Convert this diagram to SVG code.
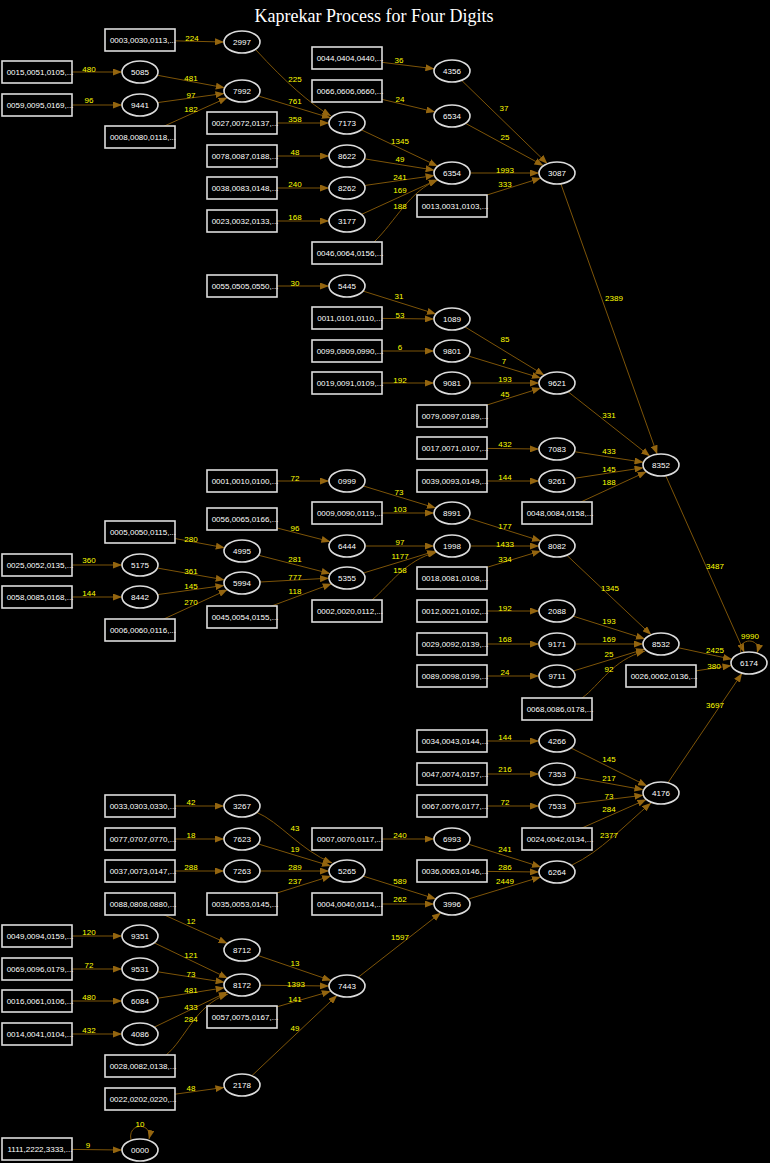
<svg xmlns="http://www.w3.org/2000/svg" width="770" height="1163" viewBox="0 0 770 1163">
<defs>
<marker id="a" markerUnits="userSpaceOnUse" markerWidth="9" markerHeight="7" refX="9" refY="3.5" orient="auto" viewBox="0 0 9 7">
<path d="M0,0 L9,3.5 L0,7 z" fill="#94650f"/>
</marker>
<style>
.e{fill:none;stroke:#7d5408;stroke-width:1;marker-end:url(#a)}
.l{fill:#ffff00;font-family:"Liberation Sans",Arial,sans-serif;font-size:8px;text-anchor:middle}
.b rect{fill:#000;stroke:#dcdcdc;stroke-width:1.6}
.o ellipse{fill:#000;stroke:#dcdcdc;stroke-width:1.6}
.t{fill:#fff;font-family:"Liberation Sans",Arial,sans-serif;font-size:8px;text-anchor:middle}
</style>
</defs>
<rect x="0" y="0" width="770" height="1163" fill="#000"/>
<g id="title"><text x="374" y="22" fill="#fff" font-family="'Liberation Serif','Times New Roman',serif" font-size="18" text-anchor="middle">Kaprekar Process for Four Digits</text></g>
<g id="connectors">
<path class="e" d="M140,40 L224,42"/>
<path class="e" d="M37,72 L122,72"/>
<path class="e" d="M37,105 L122,105"/>
<path class="e" d="M140,72 L224.8,87.8"/>
<path class="e" d="M140,105 L224.4,93.4"/>
<path class="e" d="M140,137 L227.5,97.5"/>
<path class="e" d="M256,50 Q300,98 331,116"/>
<path class="e" d="M242,91 L330.9,118.1"/>
<path class="e" d="M242,123 L329,123"/>
<path class="e" d="M242,156 L329,156"/>
<path class="e" d="M242,188 L329,188"/>
<path class="e" d="M242,221 L329,221"/>
<path class="e" d="M347,123 L437.8,166.2"/>
<path class="e" d="M347,156 L434.6,170.2"/>
<path class="e" d="M347,188 L434.5,175.5"/>
<path class="e" d="M347,221 L437.6,179.6"/>
<path class="e" d="M374,242 C395,222 410,190 438,180"/>
<path class="e" d="M347,58 L434.4,68.8"/>
<path class="e" d="M347,91 L435.2,112"/>
<path class="e" d="M452,71 L547.4,163.7"/>
<path class="e" d="M452,116 L543.5,165.7"/>
<path class="e" d="M452,173 L539,173"/>
<path class="e" d="M452,206 L541,178"/>
<path class="e" d="M557,173 L657.2,454.3"/>
<path class="e" d="M242,286 L329,286"/>
<path class="e" d="M347,286 L436,314"/>
<path class="e" d="M347,318 L434,319"/>
<path class="e" d="M347,351 L434,351"/>
<path class="e" d="M347,383 L434,383"/>
<path class="e" d="M452,319 L544.3,375.2"/>
<path class="e" d="M452,351 L540.9,378.1"/>
<path class="e" d="M452,383 L539,383"/>
<path class="e" d="M452,416 L541,388"/>
<path class="e" d="M557,383 L650,456.3"/>
<path class="e" d="M452,448 L539,449"/>
<path class="e" d="M452,481 L539,481"/>
<path class="e" d="M557,449 L643.5,462.3"/>
<path class="e" d="M557,481 L643.5,467.7"/>
<path class="e" d="M557,513 L646.6,471.6"/>
<path class="e" d="M661,465 L744.3,652.4"/>
<path class="e" d="M242,481 L329,481"/>
<path class="e" d="M347,481 L435.9,508.1"/>
<path class="e" d="M347,513 L434,513"/>
<path class="e" d="M242,519 L330.4,541.7"/>
<path class="e" d="M347,546 L434,546"/>
<path class="e" d="M347,578 L435.9,550.9"/>
<path class="e" d="M372,600 C390,585 405,560 437,552"/>
<path class="e" d="M452,513 L541,541"/>
<path class="e" d="M452,546 L539,546"/>
<path class="e" d="M452,578 L540.9,550.9"/>
<path class="e" d="M557,546 L651.2,634.8"/>
<path class="e" d="M140,532 L224.8,547.8"/>
<path class="e" d="M37,565 L122,565"/>
<path class="e" d="M37,597 L122,597"/>
<path class="e" d="M140,565 L224.7,579.9"/>
<path class="e" d="M140,597 L224.4,585.4"/>
<path class="e" d="M140,630 L227.6,589.6"/>
<path class="e" d="M242,551 L330.4,573.7"/>
<path class="e" d="M242,583 L329,578.2"/>
<path class="e" d="M242,617 L331.7,583.7"/>
<path class="e" d="M452,611 L539,611"/>
<path class="e" d="M452,644 L539,644"/>
<path class="e" d="M452,676 L539,676"/>
<path class="e" d="M557,611 L645,638.9"/>
<path class="e" d="M557,644 L643,644"/>
<path class="e" d="M557,676 L644.9,649"/>
<path class="e" d="M582,698 C600,685 612,660 645,651"/>
<path class="e" d="M661,644 L732,659.3"/>
<path class="e" d="M661,676 L731.5,665.6"/>
<path class="e" d="M661,793 L742.1,673.2"/>
<path class="e" d="M741,653 C737,637 762,637 757,653"/>
<path class="e" d="M452,741 L539,741"/>
<path class="e" d="M452,774 L539,774"/>
<path class="e" d="M452,806 L539,806"/>
<path class="e" d="M557,741 L647.1,786"/>
<path class="e" d="M557,774 L643.4,789.8"/>
<path class="e" d="M557,806 L643.4,795.2"/>
<path class="e" d="M557,839 L646.4,799.5"/>
<path class="e" d="M572,865 C600,852 625,825 651,803"/>
<path class="e" d="M347,839 L434,839"/>
<path class="e" d="M452,839 L541,867"/>
<path class="e" d="M452,871 L539,872"/>
<path class="e" d="M452,904 L540.9,876.9"/>
<path class="e" d="M140,806 L224,806"/>
<path class="e" d="M140,839 L224,839"/>
<path class="e" d="M140,871 L224,871"/>
<path class="e" d="M256,812 C280,822 300,850 332,863"/>
<path class="e" d="M242,839 L330.9,866.1"/>
<path class="e" d="M242,871 L329,871"/>
<path class="e" d="M242,904 L331,876"/>
<path class="e" d="M347,871 L436,899"/>
<path class="e" d="M347,904 L434,904"/>
<path class="e" d="M347,986 L440.9,912.7"/>
<path class="e" d="M140,904 L227.5,943.5"/>
<path class="e" d="M37,936 L122,936"/>
<path class="e" d="M37,969 L122,969"/>
<path class="e" d="M37,1001 L122,1001"/>
<path class="e" d="M37,1034 L122,1034"/>
<path class="e" d="M140,936 L227.8,978.2"/>
<path class="e" d="M140,969 L224.6,982.3"/>
<path class="e" d="M140,1001 L224.6,987.7"/>
<path class="e" d="M140,1034 L227.8,991.8"/>
<path class="e" d="M166,1055 C185,1040 195,1005 228,994"/>
<path class="e" d="M242,950 L331.3,980.6"/>
<path class="e" d="M242,985 L329,986"/>
<path class="e" d="M242,1017 L330.8,991.2"/>
<path class="e" d="M242,1085 L337.2,995.2"/>
<path class="e" d="M140,1099 L224.4,1087.4"/>
<path class="e" d="M37,1149 L122,1150"/>
<path class="e" d="M131,1140 C127,1122 153,1122 149,1139"/>
<g id="edge-labels">
<text class="l" x="192" y="41">224</text>
<text class="l" x="89" y="72">480</text>
<text class="l" x="89" y="103">96</text>
<text class="l" x="191" y="81">481</text>
<text class="l" x="191" y="98">97</text>
<text class="l" x="191" y="112">182</text>
<text class="l" x="295" y="82">225</text>
<text class="l" x="295" y="104">761</text>
<text class="l" x="295" y="122">358</text>
<text class="l" x="295" y="155">48</text>
<text class="l" x="295" y="187">240</text>
<text class="l" x="295" y="220">168</text>
<text class="l" x="399" y="63">36</text>
<text class="l" x="400" y="102">24</text>
<text class="l" x="400" y="144">1345</text>
<text class="l" x="400" y="162">49</text>
<text class="l" x="400" y="180">241</text>
<text class="l" x="400" y="193">169</text>
<text class="l" x="400" y="209">188</text>
<text class="l" x="504" y="111">37</text>
<text class="l" x="505" y="140">25</text>
<text class="l" x="505" y="173">1993</text>
<text class="l" x="505" y="187">333</text>
<text class="l" x="614" y="301">2389</text>
<text class="l" x="295" y="286">30</text>
<text class="l" x="399" y="299">31</text>
<text class="l" x="400" y="318">53</text>
<text class="l" x="400" y="350">6</text>
<text class="l" x="400" y="383">192</text>
<text class="l" x="505" y="342">85</text>
<text class="l" x="504" y="364">7</text>
<text class="l" x="505" y="382">193</text>
<text class="l" x="505" y="397">45</text>
<text class="l" x="609" y="418">331</text>
<text class="l" x="505" y="447">432</text>
<text class="l" x="505" y="480">144</text>
<text class="l" x="609" y="454">433</text>
<text class="l" x="609" y="472">145</text>
<text class="l" x="609" y="485">188</text>
<text class="l" x="715" y="569">3487</text>
<text class="l" x="295" y="481">72</text>
<text class="l" x="399" y="495">73</text>
<text class="l" x="400" y="512">103</text>
<text class="l" x="295" y="531">96</text>
<text class="l" x="400" y="545">97</text>
<text class="l" x="400" y="559">1177</text>
<text class="l" x="400" y="573">158</text>
<text class="l" x="505" y="529">177</text>
<text class="l" x="505" y="547">1433</text>
<text class="l" x="505" y="562">334</text>
<text class="l" x="610" y="591">1345</text>
<text class="l" x="191" y="542">280</text>
<text class="l" x="89" y="563">360</text>
<text class="l" x="89" y="596">144</text>
<text class="l" x="191" y="574">361</text>
<text class="l" x="191" y="589">145</text>
<text class="l" x="191" y="605">270</text>
<text class="l" x="295" y="562">281</text>
<text class="l" x="295" y="580">777</text>
<text class="l" x="295" y="594">118</text>
<text class="l" x="505" y="611">192</text>
<text class="l" x="505" y="642">168</text>
<text class="l" x="505" y="675">24</text>
<text class="l" x="609" y="624">193</text>
<text class="l" x="609" y="642">169</text>
<text class="l" x="609" y="657">25</text>
<text class="l" x="609" y="672">92</text>
<text class="l" x="715" y="653">2425</text>
<text class="l" x="714" y="669">380</text>
<text class="l" x="750" y="639">9990</text>
<text class="l" x="715" y="708">3697</text>
<text class="l" x="505" y="740">144</text>
<text class="l" x="505" y="772">216</text>
<text class="l" x="505" y="805">72</text>
<text class="l" x="609" y="762">145</text>
<text class="l" x="609" y="781">217</text>
<text class="l" x="609" y="799">73</text>
<text class="l" x="609" y="812">284</text>
<text class="l" x="609" y="838">2377</text>
<text class="l" x="400" y="838">240</text>
<text class="l" x="505" y="852">241</text>
<text class="l" x="505" y="870">286</text>
<text class="l" x="505" y="884">2449</text>
<text class="l" x="191" y="805">42</text>
<text class="l" x="191" y="838">18</text>
<text class="l" x="191" y="870">288</text>
<text class="l" x="295" y="831">43</text>
<text class="l" x="295" y="852">19</text>
<text class="l" x="295" y="870">289</text>
<text class="l" x="295" y="884">237</text>
<text class="l" x="400" y="884">589</text>
<text class="l" x="400" y="902">262</text>
<text class="l" x="400" y="940">1597</text>
<text class="l" x="191" y="924">12</text>
<text class="l" x="89" y="935">120</text>
<text class="l" x="89" y="968">72</text>
<text class="l" x="89" y="1000">480</text>
<text class="l" x="89" y="1033">432</text>
<text class="l" x="191" y="958">121</text>
<text class="l" x="191" y="977">73</text>
<text class="l" x="191" y="993">481</text>
<text class="l" x="191" y="1010">433</text>
<text class="l" x="191" y="1022">284</text>
<text class="l" x="295" y="966">13</text>
<text class="l" x="296" y="987">1393</text>
<text class="l" x="295" y="1002">141</text>
<text class="l" x="295" y="1031">49</text>
<text class="l" x="191" y="1091">48</text>
<text class="l" x="140" y="1127">10</text>
<text class="l" x="88" y="1148">9</text>
</g>
</g>
<g id="b0015" class="b"><rect x="2" y="61" width="70" height="22"/><text class="t" x="40" y="75">0015,0051,0105,...</text></g>
<g id="b0059" class="b"><rect x="2" y="94" width="70" height="22"/><text class="t" x="40" y="108">0059,0095,0169,...</text></g>
<g id="b0025" class="b"><rect x="2" y="554" width="70" height="22"/><text class="t" x="40" y="568">0025,0052,0135,...</text></g>
<g id="b0058" class="b"><rect x="2" y="586" width="70" height="22"/><text class="t" x="40" y="600">0058,0085,0168,...</text></g>
<g id="b0049" class="b"><rect x="2" y="925" width="70" height="22"/><text class="t" x="40" y="939">0049,0094,0159,...</text></g>
<g id="b0069" class="b"><rect x="2" y="958" width="70" height="22"/><text class="t" x="40" y="972">0069,0096,0179,...</text></g>
<g id="b0016" class="b"><rect x="2" y="990" width="70" height="22"/><text class="t" x="40" y="1004">0016,0061,0106,...</text></g>
<g id="b0014" class="b"><rect x="2" y="1023" width="70" height="22"/><text class="t" x="40" y="1037">0014,0041,0104,...</text></g>
<g id="b1111" class="b"><rect x="2" y="1138" width="70" height="22"/><text class="t" x="40" y="1152">1111,2222,3333,...</text></g>
<g id="b0003" class="b"><rect x="105" y="29" width="70" height="22"/><text class="t" x="143" y="43">0003,0030,0113,...</text></g>
<g id="b0008" class="b"><rect x="105" y="126" width="70" height="22"/><text class="t" x="143" y="140">0008,0080,0118,...</text></g>
<g id="b0005" class="b"><rect x="105" y="521" width="70" height="22"/><text class="t" x="143" y="535">0005,0050,0115,...</text></g>
<g id="b0006" class="b"><rect x="105" y="619" width="70" height="22"/><text class="t" x="143" y="633">0006,0060,0116,...</text></g>
<g id="b0033" class="b"><rect x="105" y="795" width="70" height="22"/><text class="t" x="143" y="809">0033,0303,0330,...</text></g>
<g id="b0077" class="b"><rect x="105" y="828" width="70" height="22"/><text class="t" x="143" y="842">0077,0707,0770,...</text></g>
<g id="b0037" class="b"><rect x="105" y="860" width="70" height="22"/><text class="t" x="143" y="874">0037,0073,0147,...</text></g>
<g id="b0088" class="b"><rect x="105" y="893" width="70" height="22"/><text class="t" x="143" y="907">0088,0808,0880,...</text></g>
<g id="b0028" class="b"><rect x="105" y="1055" width="70" height="22"/><text class="t" x="143" y="1069">0028,0082,0138,...</text></g>
<g id="b0022" class="b"><rect x="105" y="1088" width="70" height="22"/><text class="t" x="143" y="1102">0022,0202,0220,...</text></g>
<g id="b0027" class="b"><rect x="207" y="112" width="70" height="22"/><text class="t" x="245" y="126">0027,0072,0137,...</text></g>
<g id="b0078" class="b"><rect x="207" y="145" width="70" height="22"/><text class="t" x="245" y="159">0078,0087,0188,...</text></g>
<g id="b0038" class="b"><rect x="207" y="177" width="70" height="22"/><text class="t" x="245" y="191">0038,0083,0148,...</text></g>
<g id="b0023" class="b"><rect x="207" y="210" width="70" height="22"/><text class="t" x="245" y="224">0023,0032,0133,...</text></g>
<g id="b0055" class="b"><rect x="207" y="275" width="70" height="22"/><text class="t" x="245" y="289">0055,0505,0550,...</text></g>
<g id="b0001" class="b"><rect x="207" y="470" width="70" height="22"/><text class="t" x="245" y="484">0001,0010,0100,...</text></g>
<g id="b0056" class="b"><rect x="207" y="508" width="70" height="22"/><text class="t" x="245" y="522">0056,0065,0166,...</text></g>
<g id="b0045" class="b"><rect x="207" y="606" width="70" height="22"/><text class="t" x="245" y="620">0045,0054,0155,...</text></g>
<g id="b0035" class="b"><rect x="207" y="893" width="70" height="22"/><text class="t" x="245" y="907">0035,0053,0145,...</text></g>
<g id="b0057" class="b"><rect x="207" y="1006" width="70" height="22"/><text class="t" x="245" y="1020">0057,0075,0167,...</text></g>
<g id="b0044" class="b"><rect x="312" y="47" width="70" height="22"/><text class="t" x="350" y="61">0044,0404,0440,...</text></g>
<g id="b0066" class="b"><rect x="312" y="80" width="70" height="22"/><text class="t" x="350" y="94">0066,0606,0660,...</text></g>
<g id="b0046" class="b"><rect x="312" y="242" width="70" height="22"/><text class="t" x="350" y="256">0046,0064,0156,...</text></g>
<g id="b0011" class="b"><rect x="312" y="307" width="70" height="22"/><text class="t" x="350" y="321">0011,0101,0110,...</text></g>
<g id="b0099" class="b"><rect x="312" y="340" width="70" height="22"/><text class="t" x="350" y="354">0099,0909,0990,...</text></g>
<g id="b0019" class="b"><rect x="312" y="372" width="70" height="22"/><text class="t" x="350" y="386">0019,0091,0109,...</text></g>
<g id="b0009" class="b"><rect x="312" y="502" width="70" height="22"/><text class="t" x="350" y="516">0009,0090,0119,...</text></g>
<g id="b0002" class="b"><rect x="312" y="600" width="70" height="22"/><text class="t" x="350" y="614">0002,0020,0112,...</text></g>
<g id="b0007" class="b"><rect x="312" y="828" width="70" height="22"/><text class="t" x="350" y="842">0007,0070,0117,...</text></g>
<g id="b0004" class="b"><rect x="312" y="893" width="70" height="22"/><text class="t" x="350" y="907">0004,0040,0114,...</text></g>
<g id="b0013" class="b"><rect x="417" y="195" width="70" height="22"/><text class="t" x="455" y="209">0013,0031,0103,...</text></g>
<g id="b0079" class="b"><rect x="417" y="405" width="70" height="22"/><text class="t" x="455" y="419">0079,0097,0189,...</text></g>
<g id="b0017" class="b"><rect x="417" y="437" width="70" height="22"/><text class="t" x="455" y="451">0017,0071,0107,...</text></g>
<g id="b0039" class="b"><rect x="417" y="470" width="70" height="22"/><text class="t" x="455" y="484">0039,0093,0149,...</text></g>
<g id="b0018" class="b"><rect x="417" y="567" width="70" height="22"/><text class="t" x="455" y="581">0018,0081,0108,...</text></g>
<g id="b0012" class="b"><rect x="417" y="600" width="70" height="22"/><text class="t" x="455" y="614">0012,0021,0102,...</text></g>
<g id="b0029" class="b"><rect x="417" y="633" width="70" height="22"/><text class="t" x="455" y="647">0029,0092,0139,...</text></g>
<g id="b0089" class="b"><rect x="417" y="665" width="70" height="22"/><text class="t" x="455" y="679">0089,0098,0199,...</text></g>
<g id="b0034" class="b"><rect x="417" y="730" width="70" height="22"/><text class="t" x="455" y="744">0034,0043,0144,...</text></g>
<g id="b0047" class="b"><rect x="417" y="763" width="70" height="22"/><text class="t" x="455" y="777">0047,0074,0157,...</text></g>
<g id="b0067" class="b"><rect x="417" y="795" width="70" height="22"/><text class="t" x="455" y="809">0067,0076,0177,...</text></g>
<g id="b0036" class="b"><rect x="417" y="860" width="70" height="22"/><text class="t" x="455" y="874">0036,0063,0146,...</text></g>
<g id="b0048" class="b"><rect x="522" y="502" width="70" height="22"/><text class="t" x="560" y="516">0048,0084,0158,...</text></g>
<g id="b0068" class="b"><rect x="522" y="698" width="70" height="22"/><text class="t" x="560" y="712">0068,0086,0178,...</text></g>
<g id="b0024" class="b"><rect x="522" y="828" width="70" height="22"/><text class="t" x="560" y="842">0024,0042,0134,...</text></g>
<g id="b0026" class="b"><rect x="626" y="665" width="70" height="22"/><text class="t" x="664" y="679">0026,0062,0136,...</text></g>
<g id="n5085" class="o"><ellipse cx="140" cy="72" rx="18" ry="11"/><text class="t" x="140" y="75">5085</text></g>
<g id="n9441" class="o"><ellipse cx="140" cy="105" rx="18" ry="11"/><text class="t" x="140" y="108">9441</text></g>
<g id="n5175" class="o"><ellipse cx="140" cy="565" rx="18" ry="11"/><text class="t" x="140" y="568">5175</text></g>
<g id="n8442" class="o"><ellipse cx="140" cy="597" rx="18" ry="11"/><text class="t" x="140" y="600">8442</text></g>
<g id="n9351" class="o"><ellipse cx="140" cy="936" rx="18" ry="11"/><text class="t" x="140" y="939">9351</text></g>
<g id="n9531" class="o"><ellipse cx="140" cy="969" rx="18" ry="11"/><text class="t" x="140" y="972">9531</text></g>
<g id="n6084" class="o"><ellipse cx="140" cy="1001" rx="18" ry="11"/><text class="t" x="140" y="1004">6084</text></g>
<g id="n4086" class="o"><ellipse cx="140" cy="1034" rx="18" ry="11"/><text class="t" x="140" y="1037">4086</text></g>
<g id="n0000" class="o"><ellipse cx="140" cy="1150" rx="18" ry="11"/><text class="t" x="140" y="1153">0000</text></g>
<g id="n2997" class="o"><ellipse cx="242" cy="42" rx="18" ry="11"/><text class="t" x="242" y="45">2997</text></g>
<g id="n7992" class="o"><ellipse cx="242" cy="91" rx="18" ry="11"/><text class="t" x="242" y="94">7992</text></g>
<g id="n4995" class="o"><ellipse cx="242" cy="551" rx="18" ry="11"/><text class="t" x="242" y="554">4995</text></g>
<g id="n5994" class="o"><ellipse cx="242" cy="583" rx="18" ry="11"/><text class="t" x="242" y="586">5994</text></g>
<g id="n3267" class="o"><ellipse cx="242" cy="806" rx="18" ry="11"/><text class="t" x="242" y="809">3267</text></g>
<g id="n7623" class="o"><ellipse cx="242" cy="839" rx="18" ry="11"/><text class="t" x="242" y="842">7623</text></g>
<g id="n7263" class="o"><ellipse cx="242" cy="871" rx="18" ry="11"/><text class="t" x="242" y="874">7263</text></g>
<g id="n8712" class="o"><ellipse cx="242" cy="950" rx="18" ry="11"/><text class="t" x="242" y="953">8712</text></g>
<g id="n8172" class="o"><ellipse cx="242" cy="985" rx="18" ry="11"/><text class="t" x="242" y="988">8172</text></g>
<g id="n2178" class="o"><ellipse cx="242" cy="1085" rx="18" ry="11"/><text class="t" x="242" y="1088">2178</text></g>
<g id="n7173" class="o"><ellipse cx="347" cy="123" rx="18" ry="11"/><text class="t" x="347" y="126">7173</text></g>
<g id="n8622" class="o"><ellipse cx="347" cy="156" rx="18" ry="11"/><text class="t" x="347" y="159">8622</text></g>
<g id="n8262" class="o"><ellipse cx="347" cy="188" rx="18" ry="11"/><text class="t" x="347" y="191">8262</text></g>
<g id="n3177" class="o"><ellipse cx="347" cy="221" rx="18" ry="11"/><text class="t" x="347" y="224">3177</text></g>
<g id="n5445" class="o"><ellipse cx="347" cy="286" rx="18" ry="11"/><text class="t" x="347" y="289">5445</text></g>
<g id="n0999" class="o"><ellipse cx="347" cy="481" rx="18" ry="11"/><text class="t" x="347" y="484">0999</text></g>
<g id="n6444" class="o"><ellipse cx="347" cy="546" rx="18" ry="11"/><text class="t" x="347" y="549">6444</text></g>
<g id="n5355" class="o"><ellipse cx="347" cy="578" rx="18" ry="11"/><text class="t" x="347" y="581">5355</text></g>
<g id="n5265" class="o"><ellipse cx="347" cy="871" rx="18" ry="11"/><text class="t" x="347" y="874">5265</text></g>
<g id="n7443" class="o"><ellipse cx="347" cy="986" rx="18" ry="11"/><text class="t" x="347" y="989">7443</text></g>
<g id="n4356" class="o"><ellipse cx="452" cy="71" rx="18" ry="11"/><text class="t" x="452" y="74">4356</text></g>
<g id="n6534" class="o"><ellipse cx="452" cy="116" rx="18" ry="11"/><text class="t" x="452" y="119">6534</text></g>
<g id="n6354" class="o"><ellipse cx="452" cy="173" rx="18" ry="11"/><text class="t" x="452" y="176">6354</text></g>
<g id="n1089" class="o"><ellipse cx="452" cy="319" rx="18" ry="11"/><text class="t" x="452" y="322">1089</text></g>
<g id="n9801" class="o"><ellipse cx="452" cy="351" rx="18" ry="11"/><text class="t" x="452" y="354">9801</text></g>
<g id="n9081" class="o"><ellipse cx="452" cy="383" rx="18" ry="11"/><text class="t" x="452" y="386">9081</text></g>
<g id="n8991" class="o"><ellipse cx="452" cy="513" rx="18" ry="11"/><text class="t" x="452" y="516">8991</text></g>
<g id="n1998" class="o"><ellipse cx="452" cy="546" rx="18" ry="11"/><text class="t" x="452" y="549">1998</text></g>
<g id="n6993" class="o"><ellipse cx="452" cy="839" rx="18" ry="11"/><text class="t" x="452" y="842">6993</text></g>
<g id="n3996" class="o"><ellipse cx="452" cy="904" rx="18" ry="11"/><text class="t" x="452" y="907">3996</text></g>
<g id="n3087" class="o"><ellipse cx="557" cy="173" rx="18" ry="11"/><text class="t" x="557" y="176">3087</text></g>
<g id="n9621" class="o"><ellipse cx="557" cy="383" rx="18" ry="11"/><text class="t" x="557" y="386">9621</text></g>
<g id="n7083" class="o"><ellipse cx="557" cy="449" rx="18" ry="11"/><text class="t" x="557" y="452">7083</text></g>
<g id="n9261" class="o"><ellipse cx="557" cy="481" rx="18" ry="11"/><text class="t" x="557" y="484">9261</text></g>
<g id="n8082" class="o"><ellipse cx="557" cy="546" rx="18" ry="11"/><text class="t" x="557" y="549">8082</text></g>
<g id="n2088" class="o"><ellipse cx="557" cy="611" rx="18" ry="11"/><text class="t" x="557" y="614">2088</text></g>
<g id="n9171" class="o"><ellipse cx="557" cy="644" rx="18" ry="11"/><text class="t" x="557" y="647">9171</text></g>
<g id="n9711" class="o"><ellipse cx="557" cy="676" rx="18" ry="11"/><text class="t" x="557" y="679">9711</text></g>
<g id="n4266" class="o"><ellipse cx="557" cy="741" rx="18" ry="11"/><text class="t" x="557" y="744">4266</text></g>
<g id="n7353" class="o"><ellipse cx="557" cy="774" rx="18" ry="11"/><text class="t" x="557" y="777">7353</text></g>
<g id="n7533" class="o"><ellipse cx="557" cy="806" rx="18" ry="11"/><text class="t" x="557" y="809">7533</text></g>
<g id="n6264" class="o"><ellipse cx="557" cy="872" rx="18" ry="11"/><text class="t" x="557" y="875">6264</text></g>
<g id="n8352" class="o"><ellipse cx="661" cy="465" rx="18" ry="11"/><text class="t" x="661" y="468">8352</text></g>
<g id="n8532" class="o"><ellipse cx="661" cy="644" rx="18" ry="11"/><text class="t" x="661" y="647">8532</text></g>
<g id="n4176" class="o"><ellipse cx="661" cy="793" rx="18" ry="11"/><text class="t" x="661" y="796">4176</text></g>
<g id="n6174" class="o"><ellipse cx="749" cy="663" rx="18" ry="11"/><text class="t" x="749" y="666">6174</text></g>
</svg>
